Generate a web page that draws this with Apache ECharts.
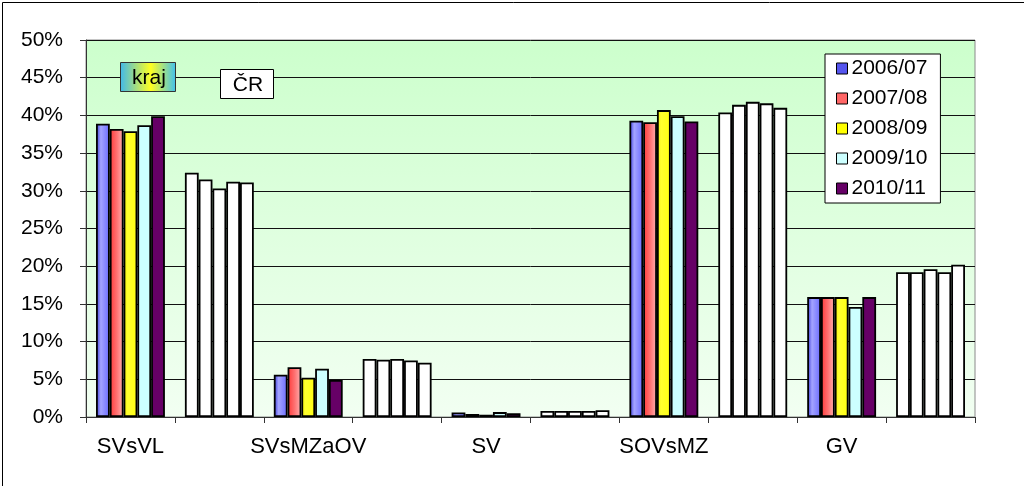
<!DOCTYPE html>
<html>
<head>
<meta charset="utf-8">
<script src="https://cdn.jsdelivr.net/npm/echarts@6/dist/echarts.min.js"></script>
<style>
html,body{margin:0;padding:0;background:#fff;}
#c{width:1024px;height:486px;}
</style>
</head>
<body>
<div id="c"></div>
<script>
const categories = ['SVsVL', 'SVsMZaOV', 'SV', 'SOVsMZ', 'GV'];
const years = ['2006/07', '2007/08', '2008/09', '2009/10', '2010/11'];
const yTicks = [0, 5, 10, 15, 20, 25, 30, 35, 40, 45, 50];

// kraj (region) values, % per category
const kraj_2006_07 = [38.9, 5.6, 0.6, 39.3, 15.9];
const kraj_2007_08 = [38.2, 6.6, 0.4, 39.1, 15.9];
const kraj_2008_09 = [37.9, 5.2, 0.3, 40.7, 15.9];
const kraj_2009_10 = [38.7, 6.4, 0.65, 39.9, 14.6];
const kraj_2010_11 = [39.9, 4.9, 0.5, 39.2, 15.9];
// ČR (whole country) values, % per category
const cr_2006_07 = [32.4, 7.7, 0.8, 40.4, 19.2];
const cr_2007_08 = [31.5, 7.6, 0.8, 41.4, 19.2];
const cr_2008_09 = [30.3, 7.7, 0.8, 41.8, 19.6];
const cr_2009_10 = [31.2, 7.5, 0.8, 41.6, 19.2];
const cr_2010_11 = [31.1, 7.2, 0.9, 41.0, 20.2];

const krajData = [kraj_2006_07, kraj_2007_08, kraj_2008_09, kraj_2009_10, kraj_2010_11];
const crData = [cr_2006_07, cr_2007_08, cr_2008_09, cr_2009_10, cr_2010_11];

const G = echarts.graphic.LinearGradient;
const fills = [
  new G(0, 0, 1, 0, [{offset: 0, color: '#3434d8'}, {offset: 0.35, color: '#a4a4ff'}, {offset: 1, color: '#6a6aff'}]),
  new G(0, 0, 1, 0, [{offset: 0, color: '#ff3838'}, {offset: 0.5, color: '#ff7070'}, {offset: 1, color: '#ffb4b4'}]),
  new G(0, 0, 1, 0, [{offset: 0, color: '#f0f000'}, {offset: 0.3, color: '#ffff30'}, {offset: 1, color: '#ffff10'}]),
  '#ccffff',
  '#660066'
];
const legendColors = ['#5555ee', '#ff6666', '#ffff00', '#ccffff', '#660066'];

const xLabels = [];
categories.forEach(c => { xLabels.push(c); xLabels.push(''); });

const FONT = 'Liberation Sans, Arial, sans-serif';

const series = years.map((y, s) => {
  const data = [];
  categories.forEach((c, i) => {
    data.push(krajData[s][i]);
    data.push({value: crData[s][i], itemStyle: {color: '#ffffff'}});
  });
  return {
    name: y,
    type: 'bar',
    data: data,
    barGap: '0%',
    barCategoryGap: '22.5%',
    itemStyle: {color: fills[s], borderColor: '#000', borderWidth: 1.8},
    emphasis: {disabled: true}
  };
});

const chart = echarts.init(document.getElementById('c'));
chart.setOption({
  animation: false,
  backgroundColor: '#fff',
  textStyle: {fontFamily: FONT},
  grid: {
    left: 86, right: 49, top: 40, bottom: 69,
    show: true,
    borderColor: '#8a8a8a', borderWidth: 1,
    backgroundColor: new G(0, 0, 0, 1, [{offset: 0, color: '#ccffcc'}, {offset: 1, color: '#f2fff2'}])
  },
  legend: {
    orient: 'vertical',
    left: 825, top: 54,
    padding: [4, 13, 4, 11],
    itemGap: 9,
    itemWidth: 11, itemHeight: 11,
    icon: 'rect',
    backgroundColor: '#fff',
    borderColor: '#000', borderWidth: 1,
    textStyle: {fontSize: 21, lineHeight: 21, color: '#000', fontFamily: FONT, padding: [0, 0, 0, -1]},
    itemStyle: {borderColor: '#000', borderWidth: 1},
    data: years.map((y, i) => ({name: y, itemStyle: {color: legendColors[i], borderColor: '#000', borderWidth: 1}}))
  },
  xAxis: {
    type: 'category',
    data: xLabels,
    axisLine: {lineStyle: {color: '#333', width: 1}},
    axisTick: {show: true, length: 6, lineStyle: {color: '#333'}, interval: 0},
    axisLabel: {interval: 0, fontSize: 22, color: '#000', margin: 19, fontFamily: FONT},
    splitLine: {show: false}
  },
  yAxis: {
    type: 'value',
    min: yTicks[0], max: yTicks[yTicks.length - 1], interval: 5,
    axisLine: {show: true, lineStyle: {color: '#333', width: 1}},
    axisTick: {show: true, length: 6, lineStyle: {color: '#333'}},
    axisLabel: {fontSize: 21, color: '#000', margin: 23, formatter: '{value}%', fontFamily: FONT},
    splitLine: {show: true, lineStyle: {color: '#111', width: 1}}
  },
  series: series,
  graphic: [
    {type: 'rect', left: 0, top: 0, shape: {x: 0.5, y: 0.5, width: 1023, height: 485}, style: {fill: 'none', stroke: '#000', lineWidth: 1}, silent: true, z: 100},
    {type: 'rect', shape: {x: 120.5, y: 62.5, width: 55, height: 29},
      style: {fill: new G(0, 0, 1, 0, [{offset: 0, color: '#3fb8ec'}, {offset: 0.55, color: '#ffff20'}, {offset: 1, color: '#3fc0f0'}]), stroke: '#333', lineWidth: 1}, z: 50},
    {type: 'text', x: 149, y: 78, style: {text: 'kraj', fontSize: 21, fontFamily: FONT, fill: '#000', align: 'center', verticalAlign: 'middle'}, z: 51},
    {type: 'rect', shape: {x: 220.5, y: 69.5, width: 53, height: 29}, style: {fill: '#fff', stroke: '#000', lineWidth: 1}, z: 50},
    {type: 'text', x: 248, y: 85, style: {text: 'ČR', fontSize: 21, fontFamily: FONT, fill: '#000', align: 'center', verticalAlign: 'middle'}, z: 51}
  ]
});
</script>
</body>
</html>
